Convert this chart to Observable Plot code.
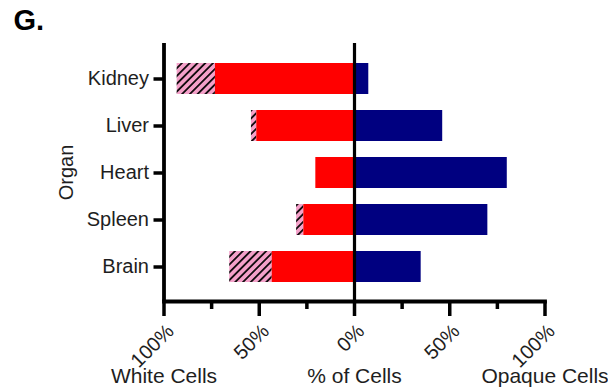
<!DOCTYPE html>
<html><head><meta charset="utf-8">
<script src="https://cdn.jsdelivr.net/npm/d3@7"></script>
<script src="https://cdn.jsdelivr.net/npm/@observablehq/plot@0.6"></script>
<style>body{margin:0;background:#fff;} svg{display:block;font-family:"Liberation Sans",Arial,sans-serif;}</style>
</head><body><div id="chart"></div>
<script>
const organs = ["Kidney", "Liver", "Heart", "Spleen", "Brain"];
const whiteSolid = [73.0, 51.3, 20.3, 26.6, 43.2];
const whiteHatched = [20.1, 2.8, 0, 3.8, 22.3];
const opaque = [7.5, 46.3, 80.2, 70.0, 35.0];
const majorTicks = [-100, -50, 0, 50, 100];
const minorTicks = [-75, -25, 25, 75];
const sideLabels = ["White Cells", "% of Cells", "Opaque Cells"];
const sideLabelX = [-100, 0, 100];

const rows = organs.map((o, i) => ({organ: o, white: whiteSolid[i], hatch: whiteHatched[i], opaque: opaque[i]}));
const labels = sideLabels.map((t, i) => ({text: t, x: sideLabelX[i]}));
const font = "'Liberation Sans', Arial, sans-serif";

const plot = Plot.plot({
  width: 608, height: 388,
  marginTop: 43, marginBottom: 87, marginLeft: 163.5, marginRight: 63.5,
  style: {fontFamily: font, fontSize: "20px", color: "#1e1e1e", background: "#fff", overflow: "visible"},
  x: {domain: [-100, 100]},
  y: {domain: organs, paddingInner: 0.342, paddingOuter: 0.367},
  marks: [
    Plot.barX(rows.filter(d => d.hatch > 0), {y: "organ", x1: d => -d.white, x2: d => -(d.white + d.hatch), fill: "url(#hatch)"}),
    Plot.barX(rows, {y: "organ", x1: 0, x2: d => -d.white, fill: "#ff0000"}),
    Plot.barX(rows, {y: "organ", x1: 0, x2: "opaque", fill: "#000080"}),
    Plot.ruleX([0], {stroke: "#000", strokeWidth: 3.2}),
    Plot.ruleX([-100], {stroke: "#000", strokeWidth: 3.8}),
    Plot.frame({anchor: "bottom", stroke: "#000", strokeWidth: 3.8}),
    Plot.axisX({ticks: majorTicks, tickSize: 15, strokeWidth: 3.5, stroke: "#000", tickFormat: () => "", label: null}),
    Plot.axisX({ticks: minorTicks, tickSize: 8, strokeWidth: 3.5, stroke: "#000", tickFormat: () => "", label: null}),
    Plot.text(majorTicks, {x: d => d, text: d => Math.abs(d) + "%", frameAnchor: "bottom", dx: 11, dy: 31, rotate: -45, textAnchor: "end", lineAnchor: "bottom", fontSize: 20}),
    Plot.axisY({tickSize: 10, tickPadding: 5, strokeWidth: 3.5, stroke: "#000", fontSize: 20, label: null}),
    Plot.text(["Organ"], {text: d => d, frameAnchor: "left", dx: -91.5, rotate: -90, textAnchor: "middle", lineAnchor: "bottom", fontSize: 20}),
    Plot.text(["G."], {text: d => d, frameAnchor: "top-left", dx: -150.5, dy: -14, textAnchor: "start", lineAnchor: "bottom", fontSize: 29, fontWeight: "bold", fill: "#000"}),
    Plot.text(labels, {x: "x", text: "text", frameAnchor: "bottom", dy: 81, lineAnchor: "bottom", fontSize: 21})
  ]
});

d3.select(plot).insert("defs", ":first-child").html(
  '<pattern id="hatch" patternUnits="userSpaceOnUse" width="5.5" height="5.5" patternTransform="rotate(45)">' +
  '<rect width="5.5" height="5.5" fill="#f4a0c9"/>' +
  '<line x1="2.75" y1="-1" x2="2.75" y2="6.5" stroke="#000" stroke-width="1.7"/></pattern>'
);
document.getElementById("chart").appendChild(plot);
</script>
</body></html>
